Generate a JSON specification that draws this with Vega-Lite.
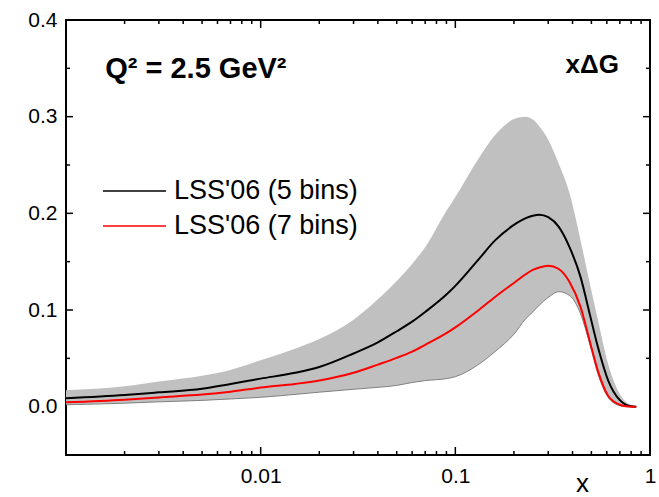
{
  "$schema": "https://vega.github.io/schema/vega-lite/v6.json",
  "width": 584,
  "height": 435,
  "autosize": {"type": "none"},
  "padding": {"left": 66, "top": 20, "right": 9, "bottom": 42},
  "background": "white",
  "view": {"stroke": "black", "strokeWidth": 2, "fill": null},
  "config": {
    "font": "Liberation Sans",
    "view": {"stroke": "black", "strokeWidth": 2},
    "style": {"cell": {"stroke": "black", "strokeWidth": 2}},
    "axis": {"grid": false}
  },
  "datasets": {
    "pdf": [
      {"x": 0.001, "lo": 0.002, "hi": 0.017, "b5": 0.0086, "b7": 0.0045},
      {"x": 0.002, "lo": 0.0036, "hi": 0.021, "b5": 0.012, "b7": 0.0072},
      {"x": 0.003, "lo": 0.005, "hi": 0.026, "b5": 0.0148, "b7": 0.0096},
      {"x": 0.005, "lo": 0.0065, "hi": 0.032, "b5": 0.0185, "b7": 0.0125},
      {"x": 0.007, "lo": 0.008, "hi": 0.038, "b5": 0.0235, "b7": 0.0155},
      {"x": 0.01, "lo": 0.0097, "hi": 0.048, "b5": 0.029, "b7": 0.0198},
      {"x": 0.015, "lo": 0.0127, "hi": 0.06, "b5": 0.035, "b7": 0.0235},
      {"x": 0.02, "lo": 0.015, "hi": 0.07, "b5": 0.041, "b7": 0.027},
      {"x": 0.03, "lo": 0.018, "hi": 0.09, "b5": 0.055, "b7": 0.035},
      {"x": 0.04, "lo": 0.02, "hi": 0.111, "b5": 0.0665, "b7": 0.0435},
      {"x": 0.05, "lo": 0.022, "hi": 0.13, "b5": 0.078, "b7": 0.0505},
      {"x": 0.06, "lo": 0.025, "hi": 0.1476, "b5": 0.088, "b7": 0.057},
      {"x": 0.07, "lo": 0.027, "hi": 0.165, "b5": 0.098, "b7": 0.064},
      {"x": 0.09, "lo": 0.029, "hi": 0.2027, "b5": 0.116, "b7": 0.076},
      {"x": 0.1, "lo": 0.031, "hi": 0.217, "b5": 0.125, "b7": 0.082},
      {"x": 0.13, "lo": 0.043, "hi": 0.255, "b5": 0.151, "b7": 0.099},
      {"x": 0.16, "lo": 0.057, "hi": 0.281, "b5": 0.172, "b7": 0.1135},
      {"x": 0.2, "lo": 0.075, "hi": 0.2975, "b5": 0.188, "b7": 0.128},
      {"x": 0.23, "lo": 0.091, "hi": 0.3, "b5": 0.195, "b7": 0.137},
      {"x": 0.25, "lo": 0.098, "hi": 0.297, "b5": 0.1975, "b7": 0.1415},
      {"x": 0.27, "lo": 0.105, "hi": 0.29, "b5": 0.1986, "b7": 0.144},
      {"x": 0.3, "lo": 0.113, "hi": 0.276, "b5": 0.196, "b7": 0.1458},
      {"x": 0.34, "lo": 0.119, "hi": 0.251, "b5": 0.186, "b7": 0.1424},
      {"x": 0.386, "lo": 0.115, "hi": 0.221, "b5": 0.165, "b7": 0.129},
      {"x": 0.44, "lo": 0.096, "hi": 0.172, "b5": 0.134, "b7": 0.103},
      {"x": 0.49, "lo": 0.065, "hi": 0.128, "b5": 0.096, "b7": 0.068},
      {"x": 0.54, "lo": 0.034, "hi": 0.09, "b5": 0.0617, "b7": 0.037},
      {"x": 0.61, "lo": 0.0096, "hi": 0.044, "b5": 0.027, "b7": 0.011},
      {"x": 0.7, "lo": 0.001, "hi": 0.013, "b5": 0.0067, "b7": 0.002},
      {"x": 0.75, "lo": 0, "hi": 0.005, "b5": 0.002, "b7": 0.0005},
      {"x": 0.8, "lo": 0, "hi": 0.0015, "b5": 0.0005, "b7": 0},
      {"x": 0.85, "lo": 0, "hi": 0, "b5": 0, "b7": 0}
    ],
    "xticks": [
      {"tick": 0.01, "kind": "major"}, {"tick": 0.1, "kind": "major"},
      {"tick": 0.002, "kind": "minor"}, {"tick": 0.003, "kind": "minor"}, {"tick": 0.004, "kind": "minor"}, {"tick": 0.005, "kind": "minor"},
      {"tick": 0.006, "kind": "minor"}, {"tick": 0.007, "kind": "minor"}, {"tick": 0.008, "kind": "minor"}, {"tick": 0.009, "kind": "minor"},
      {"tick": 0.02, "kind": "minor"}, {"tick": 0.03, "kind": "minor"}, {"tick": 0.04, "kind": "minor"}, {"tick": 0.05, "kind": "minor"},
      {"tick": 0.06, "kind": "minor"}, {"tick": 0.07, "kind": "minor"}, {"tick": 0.08, "kind": "minor"}, {"tick": 0.09, "kind": "minor"},
      {"tick": 0.2, "kind": "minor"}, {"tick": 0.3, "kind": "minor"}, {"tick": 0.4, "kind": "minor"}, {"tick": 0.5, "kind": "minor"},
      {"tick": 0.6, "kind": "minor"}, {"tick": 0.7, "kind": "minor"}, {"tick": 0.8, "kind": "minor"}, {"tick": 0.9, "kind": "minor"}
    ],
    "yticks": [
      {"tick": 0.1, "kind": "major"}, {"tick": 0.2, "kind": "major"}, {"tick": 0.3, "kind": "major"},
      {"tick": 0.05, "kind": "minor"}, {"tick": 0.15, "kind": "minor"}, {"tick": 0.25, "kind": "minor"}, {"tick": 0.35, "kind": "minor"}
    ],
    "notesLeft": [{"x": 0.00159, "y": 0.34, "t": "Q² = 2.5 GeV²"}],
    "notesRight": [{"x": 0.693, "y": 0.3454, "t": "xΔG"}]
  },
  "layer": [
    {
      "data": {"name": "pdf"},
      "mark": {"type": "area", "color": "#c0c0c0", "interpolate": "monotone"},
      "encoding": {
        "x": {
          "field": "x", "type": "quantitative",
          "scale": {"type": "log", "domain": [0.001, 1], "nice": false},
          "axis": {
            "orient": "bottom",
            "grid": false,
            "domain": false,
            "ticks": false,
            "values": [0.01, 0.1, 1],
            "labelPadding": 10,
            "labelFontSize": 21, "labelColor": "black",
            "labelOverlap": false, "labelFlush": false, "labelBound": false,
            "labelExpr": "format(datum.value, '~g')",
            "title": "x",
            "titleFontSize": 26,
            "titleFontWeight": "normal",
            "titleColor": "black",
            "titleX": 516,
            "titleY": 41,
            "titleBaseline": "bottom",
            "titleAlign": "center"
          }
        },
        "y": {
          "field": "lo", "type": "quantitative",
          "scale": {"domain": [-0.05, 0.4], "nice": false, "zero": false},
          "axis": {
            "orient": "left",
            "grid": false,
            "domain": false,
            "ticks": false,
            "values": [0, 0.1, 0.2, 0.3, 0.4],
            "labelPadding": 9,
            "labelFontSize": 21, "labelColor": "black",
            "labelOverlap": false, "labelFlush": false, "labelBound": false,
            "format": ".1f",
            "title": null
          }
        },
        "y2": {"field": "hi"}
      }
    },
    {
      "data": {"name": "pdf"},
      "mark": {"type": "line", "color": "#808080", "strokeWidth": 1, "interpolate": "monotone"},
      "encoding": {
        "x": {"field": "x", "type": "quantitative"},
        "y": {"field": "lo", "type": "quantitative"}
      }
    },
    {
      "data": {"name": "pdf"},
      "transform": [{"fold": ["b5", "b7"], "as": ["series", "val"]}],
      "mark": {"type": "line", "strokeWidth": 2, "interpolate": "monotone"},
      "encoding": {
        "x": {"field": "x", "type": "quantitative"},
        "y": {"field": "val", "type": "quantitative"},
        "color": {
          "field": "series", "type": "nominal",
          "scale": {"domain": ["b5", "b7"], "range": ["#000000", "#ff0000"]},
          "legend": {
            "orient": "none",
            "legendX": 36,
            "legendY": 158,
            "title": null,
            "padding": 0,
            "labelExpr": "datum.label == 'b5' ? \"LSS'06 (5 bins)\" : \"LSS'06 (7 bins)\"",
            "labelFontSize": 27,
            "labelColor": "black",
            "labelLimit": 400,
            "labelOffset": 7,
            "symbolType": "stroke",
            "symbolSize": 3969,
            "symbolStrokeWidth": 1.5,
            "clipHeight": 26,
            "rowPadding": 8
          }
        }
      }
    },
    {
      "mark": {"type": "rule", "color": "black", "strokeWidth": 2},
      "encoding": {"y": {"datum": 0, "type": "quantitative"}}
    },
    {
      "data": {"name": "xticks"},
      "transform": [{"filter": "datum.kind == 'major'"}],
      "mark": {"type": "tick", "orient": "vertical", "color": "black", "opacity": 1, "size": 8, "thickness": 1.5, "yOffset": -4},
      "encoding": {"x": {"field": "tick", "type": "quantitative"}, "y": {"datum": -0.05, "type": "quantitative"}}
    },
    {
      "data": {"name": "xticks"},
      "transform": [{"filter": "datum.kind == 'minor'"}],
      "mark": {"type": "tick", "orient": "vertical", "color": "black", "opacity": 1, "size": 4, "thickness": 1.5, "yOffset": -2},
      "encoding": {"x": {"field": "tick", "type": "quantitative"}, "y": {"datum": -0.05, "type": "quantitative"}}
    },
    {
      "data": {"name": "xticks"},
      "transform": [{"filter": "datum.kind == 'major'"}],
      "mark": {"type": "tick", "orient": "vertical", "color": "black", "opacity": 1, "size": 8, "thickness": 1.5, "yOffset": 4},
      "encoding": {"x": {"field": "tick", "type": "quantitative"}, "y": {"datum": 0.4, "type": "quantitative"}}
    },
    {
      "data": {"name": "xticks"},
      "transform": [{"filter": "datum.kind == 'minor'"}],
      "mark": {"type": "tick", "orient": "vertical", "color": "black", "opacity": 1, "size": 4, "thickness": 1.5, "yOffset": 2},
      "encoding": {"x": {"field": "tick", "type": "quantitative"}, "y": {"datum": 0.4, "type": "quantitative"}}
    },
    {
      "data": {"name": "yticks"},
      "transform": [{"filter": "datum.kind == 'major'"}],
      "mark": {"type": "tick", "orient": "horizontal", "color": "black", "opacity": 1, "size": 7, "thickness": 1.5, "xOffset": 3.5},
      "encoding": {"y": {"field": "tick", "type": "quantitative"}, "x": {"datum": 0.001, "type": "quantitative"}}
    },
    {
      "data": {"name": "yticks"},
      "transform": [{"filter": "datum.kind == 'minor'"}],
      "mark": {"type": "tick", "orient": "horizontal", "color": "black", "opacity": 1, "size": 4, "thickness": 1.5, "xOffset": 2},
      "encoding": {"y": {"field": "tick", "type": "quantitative"}, "x": {"datum": 0.001, "type": "quantitative"}}
    },
    {
      "data": {"name": "yticks"},
      "transform": [{"filter": "datum.kind == 'major'"}],
      "mark": {"type": "tick", "orient": "horizontal", "color": "black", "opacity": 1, "size": 7, "thickness": 1.5, "xOffset": -3.5},
      "encoding": {"y": {"field": "tick", "type": "quantitative"}, "x": {"datum": 1, "type": "quantitative"}}
    },
    {
      "data": {"name": "yticks"},
      "transform": [{"filter": "datum.kind == 'minor'"}],
      "mark": {"type": "tick", "orient": "horizontal", "color": "black", "opacity": 1, "size": 4, "thickness": 1.5, "xOffset": -2},
      "encoding": {"y": {"field": "tick", "type": "quantitative"}, "x": {"datum": 1, "type": "quantitative"}}
    },
    {
      "data": {"name": "notesLeft"},
      "mark": {"type": "text", "align": "left", "baseline": "alphabetic", "fontSize": 29, "fontWeight": "bold", "color": "black"},
      "encoding": {
        "x": {"field": "x", "type": "quantitative"},
        "y": {"field": "y", "type": "quantitative"},
        "text": {"field": "t"}
      }
    },
    {
      "data": {"name": "notesRight"},
      "mark": {"type": "text", "align": "right", "baseline": "alphabetic", "fontSize": 26, "fontWeight": "bold", "color": "black"},
      "encoding": {
        "x": {"field": "x", "type": "quantitative"},
        "y": {"field": "y", "type": "quantitative"},
        "text": {"field": "t"}
      }
    }
  ]
}
